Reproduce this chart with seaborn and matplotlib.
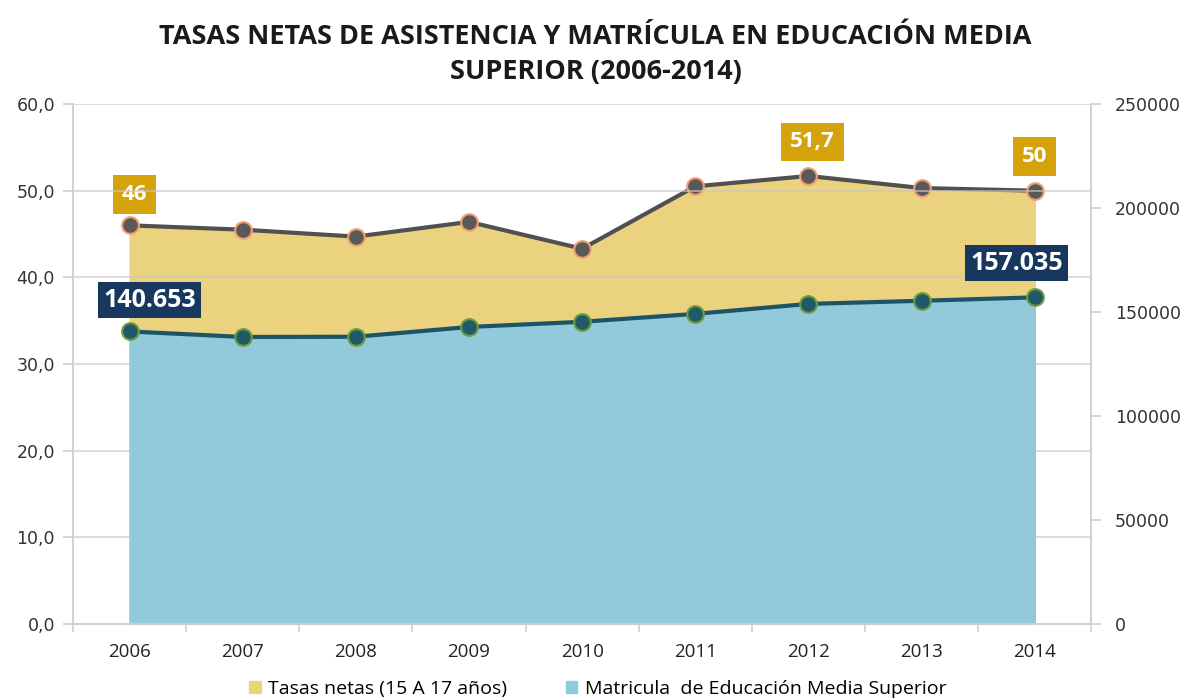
import matplotlib
matplotlib.use("Agg")
import matplotlib.pyplot as plt
import matplotlib.patches as mpatches
import matplotlib.transforms as mtransforms
from matplotlib.ticker import FuncFormatter, FixedLocator
import seaborn as sns
import pandas as pd

# datos
anios = ["2006", "2007", "2008", "2009", "2010", "2011", "2012", "2013", "2014"]
tasas = [46.0, 45.5, 44.7, 46.4, 43.3, 50.5, 51.7, 50.3, 50.0]
matricula = [140653, 138000, 138100, 142800, 145300, 149100, 153900, 155400, 157035]

df = pd.DataFrame({"anio": anios, "tasas": tasas, "matricula": matricula})
df["x"] = range(len(df))

plt.rcParams["font.family"] = ["Open Sans", "DejaVu Sans"]

fig = plt.figure(figsize=(11.91, 7), dpi=100)
ax = fig.add_axes([0.0613, 0.1086, 0.855, 0.7428])
ax2 = ax.twinx()

amarillo = "#ebd27e"
celeste = "#92cadc"

# area tasas netas (eje izquierdo)
ax.fill_between(df["x"], 0, df["tasas"], color=amarillo, zorder=1)
ax.set_ylim(0, 60)
ax.set_xlim(-0.5, 8.5)
ax.yaxis.set_major_locator(FixedLocator([0, 10, 20, 30, 40, 50, 60]))
ax.yaxis.set_major_formatter(FuncFormatter(lambda v, p: f"{v:.1f}".replace(".", ",")))
ax.grid(False)
sns.lineplot(data=df, x="x", y="tasas", ax=ax, color="#505050", linewidth=3,
             marker="o", markersize=12, markerfacecolor="#595959",
             markeredgecolor="#f0a070", markeredgewidth=1.5, zorder=4)

# area matricula (eje derecho)
ax2.set_ylim(0, 250000)
# lineas de cuadricula del eje izquierdo, debajo del area celeste
trans = mtransforms.blended_transform_factory(ax2.transAxes, ax.transData)
ax2.hlines(ax.get_yticks(), 0, 1, transform=trans, colors="#c8c8c8", linewidth=1.2,
           alpha=0.75, zorder=0.5)
ax2.fill_between(df["x"], 0, df["matricula"], color=celeste, zorder=1)
sns.lineplot(data=df, x="x", y="matricula", ax=ax2, color="#1b5466", linewidth=3,
             marker="o", markersize=12, markerfacecolor="#1f5a68",
             markeredgecolor="#6f9a3a", markeredgewidth=1.5, zorder=4)
ax2.set_ylim(0, 250000)
ax2.set_xlim(-0.5, 8.5)
ax2.yaxis.set_major_locator(FixedLocator([0, 50000, 100000, 150000, 200000, 250000]))
ax2.yaxis.set_major_formatter(FuncFormatter(lambda v, p: f"{int(v)}"))
ax2.grid(False)

for a in (ax, ax2):
    a.set_xlabel("")
    a.set_ylabel("")
    for s in a.spines.values():
        s.set_color("#d0d0d0")
        s.set_linewidth(1.2)
    a.spines["top"].set_visible(False)

ax.set_xticks(df["x"])
ax.set_xticklabels(df["anio"])
ax.set_xticks([i - 0.5 for i in range(len(anios) + 1)], minor=True)
ax.tick_params(axis="x", which="major", length=0, pad=14, labelsize=13.5, labelcolor="#222222")
ax.tick_params(axis="x", which="minor", length=6, color="#d0d0d0", width=1.2, direction="out")
ax.tick_params(axis="y", length=7, color="#d0d0d0", width=1.2, left=True, pad=6)
ax2.tick_params(axis="y", length=7, color="#d0d0d0", width=1.2, right=True, pad=10)
ax2.tick_params(axis="x", which="both", length=0)
for lab in ax.get_yticklabels() + ax2.get_yticklabels():
    lab.set_fontfamily("DejaVu Sans")
    lab.set_fontsize(12.5)
    lab.set_color("#333333")

# etiquetas de datos
oro = "#d4a20a"
marino = "#17375e"

def etiqueta(a, x, y, texto, fondo, dx, dy, size, pad):
    a.annotate(texto, (x, y), xytext=(dx, dy), textcoords="offset points",
               ha="center", va="center", fontsize=size, fontweight="bold", color="white",
               bbox=dict(boxstyle=f"square,pad={pad}", fc=fondo, ec="none"), zorder=6)

etiqueta(ax, 0, tasas[0], "46", oro, 3.6, 22, 16, 0.4)
etiqueta(ax, 6, tasas[6], "51,7", oro, 3, 24.5, 16, 0.4)
etiqueta(ax, 8, tasas[8], "50", oro, 0, 24.5, 16, 0.4)
etiqueta(ax2, 0, matricula[0], "140.653", marino, 14.4, 22.5, 18, 0.22)
etiqueta(ax2, 8, matricula[8], "157.035", marino, -13, 24.5, 18, 0.22)

fig.suptitle("TASAS NETAS DE ASISTENCIA Y MATRÍCULA EN EDUCACIÓN MEDIA\nSUPERIOR (2006-2014)",
             x=0.5, y=0.966, fontsize=19.5, fontweight="bold", color="#1a1a1a", linespacing=1.45)

handles = [mpatches.Patch(color=amarillo, label="Tasas netas (15 A 17 años)"),
           mpatches.Patch(color=celeste, label="Matricula  de Educación Media Superior")]
fig.legend(handles=handles, loc="center", bbox_to_anchor=(0.502, 0.016), ncol=2, frameon=False,
           fontsize=14, handlelength=0.6, handleheight=0.6, columnspacing=3, handletextpad=0.4)

fig.savefig("out.png", dpi=100)
